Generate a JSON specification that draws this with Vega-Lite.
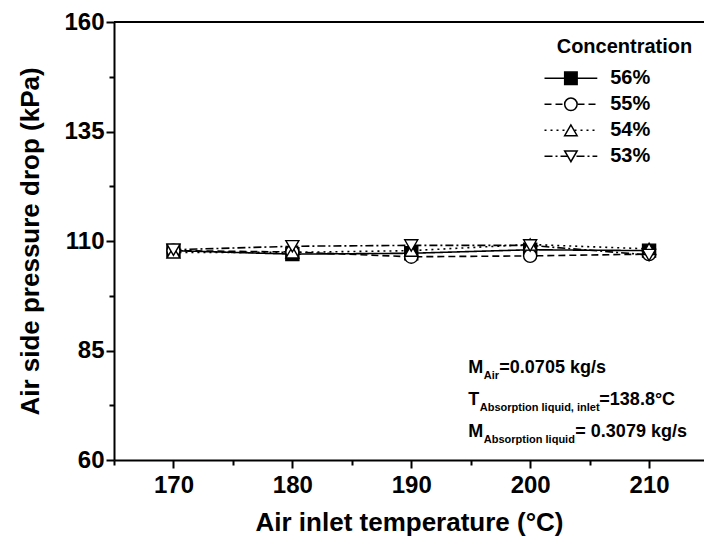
{
  "$schema": "https://vega.github.io/schema/vega-lite/v6.json",
  "width": 590,
  "height": 438,
  "autosize": "none",
  "padding": {"left": 114, "top": 22, "right": 0, "bottom": 85},
  "background": "white",
  "config": {
    "font": "Liberation Sans",
    "view": {"stroke": null},
    "axis": {
      "grid": false, "domainColor": "black", "domainWidth": 2, "tickColor": "black", "tickWidth": 2,
      "labelColor": "black", "titleColor": "black", "labelFontWeight": "bold", "titleFontWeight": "bold",
      "labelFontSize": 24, "titleFontSize": 26, "labelFlush": false, "labelOverlap": false
    }
  },
  "datasets": {
    "pts": [
      {"c": "56%", "x": 170, "y": 107.8}, {"c": "56%", "x": 180, "y": 107.0}, {"c": "56%", "x": 190, "y": 107.2}, {"c": "56%", "x": 200, "y": 108.0}, {"c": "56%", "x": 210, "y": 107.8},
      {"c": "55%", "x": 170, "y": 107.8}, {"c": "55%", "x": 180, "y": 107.5}, {"c": "55%", "x": 190, "y": 106.4}, {"c": "55%", "x": 200, "y": 106.6}, {"c": "55%", "x": 210, "y": 107.0},
      {"c": "54%", "x": 170, "y": 107.4}, {"c": "54%", "x": 180, "y": 107.4}, {"c": "54%", "x": 190, "y": 107.8}, {"c": "54%", "x": 200, "y": 109.2}, {"c": "54%", "x": 210, "y": 108.2},
      {"c": "53%", "x": 170, "y": 108.0}, {"c": "53%", "x": 180, "y": 108.8}, {"c": "53%", "x": 190, "y": 109.0}, {"c": "53%", "x": 200, "y": 109.0}, {"c": "53%", "x": 210, "y": 106.8}
    ],
    "notes": [
      {"line": 1, "x": 194.8, "y": 81.1, "a": "M", "b": "Air", "c": "=0.0705 kg/s"},
      {"line": 2, "x": 194.8, "y": 73.8, "a": "T", "b": "Absorption liquid, inlet", "c": "=138.8°C"},
      {"line": 3, "x": 194.8, "y": 66.5, "a": "M", "b": "Absorption liquid", "c": "= 0.3079 kg/s"}
    ],
    "frame": [{"y": 160}]
  },
  "layer": [
    {
      "data": {"name": "frame"},
      "mark": {"type": "rule", "stroke": "black", "strokeWidth": 2},
      "encoding": {"y": {"field": "y", "type": "quantitative", "scale": {"domain": [60, 160], "nice": false, "zero": false}}}
    },
    {
      "data": {"name": "pts"},
      "mark": {"type": "line", "stroke": "black", "strokeWidth": 1.6},
      "encoding": {
        "x": {"field": "x", "type": "quantitative", "scale": {"domain": [165, 214.62], "nice": false, "zero": false},
          "axis": {"title": "Air inlet temperature (°C)", "values": [165, 170, 175, 180, 185, 190, 195, 200, 205, 210],
            "labelExpr": "datum.value % 10 === 0 ? datum.label : ''",
            "tickSize": {"condition": {"test": "datum.value % 10 === 0", "value": 8}, "value": 5}, "labelPadding": 5, "titlePadding": 12}},
        "y": {"field": "y", "type": "quantitative", "scale": {"domain": [60, 160], "nice": false, "zero": false},
          "axis": {"title": "Air side pressure drop (kPa)", "values": [60, 72.5, 85, 97.5, 110, 122.5, 135, 147.5, 160],
            "labelExpr": "(datum.value - 60) % 25 === 0 ? datum.label : ''",
            "tickSize": {"condition": {"test": "(datum.value - 60) % 25 === 0", "value": 8}, "value": 5}, "labelPadding": 2, "titlePadding": 20}},
        "strokeDash": {
          "field": "c", "type": "nominal",
          "scale": {"domain": ["56%", "55%", "54%", "53%"], "range": [[1, 0], [7, 4], [2, 4], [8, 3, 2, 3]]},
          "legend": {
            "orient": "none", "legendX": 442.7, "legendY": 14.7, "padding": 0,
            "title": "Concentration", "titleFontSize": 20, "titleFontWeight": "bold", "titleColor": "black", "titlePadding": 11.6,
            "labelFontSize": 20, "labelFontWeight": "bold", "labelColor": "black", "labelOffset": 29.3, "rowPadding": 6,
            "symbolType": "M-4.31,0H4.31", "symbolSize": 150, "symbolOffset": 4.2, "symbolStrokeWidth": 1.5
          }
        }
      }
    },
    {
      "data": {"name": "pts"},
      "mark": {"type": "point", "filled": false, "fill": "white", "stroke": "black", "strokeWidth": 1.4, "size": 170, "opacity": 1},
      "encoding": {
        "x": {"field": "x", "type": "quantitative"},
        "y": {"field": "y", "type": "quantitative"},
        "shape": {
          "field": "c", "type": "nominal", "sort": "descending",
          "scale": {"range": ["square", "circle", "triangle-up", "triangle-down"]},
          "legend": {
            "orient": "none", "legendX": 442.7, "legendY": 14.7, "padding": 0,
            "title": "Concentration", "titleFontSize": 20, "titleFontWeight": "bold", "titleColor": "transparent", "titlePadding": 11.6,
            "labelFontSize": 20, "labelFontWeight": "bold", "labelColor": "transparent", "labelOffset": 29.3, "rowPadding": 6,
            "symbolSize": 155, "symbolOffset": 4.2, "symbolStrokeWidth": 1.5
          }
        },
        "fill": {
          "field": "c", "type": "nominal", "sort": "descending",
          "scale": {"range": ["black", "white", "white", "white"]},
          "legend": {
            "orient": "none", "legendX": 442.7, "legendY": 14.7, "padding": 0,
            "title": "Concentration", "titleFontSize": 20, "titleFontWeight": "bold", "titleColor": "transparent", "titlePadding": 11.6,
            "labelFontSize": 20, "labelFontWeight": "bold", "labelColor": "transparent", "labelOffset": 29.3, "rowPadding": 6,
            "symbolSize": 155, "symbolOffset": 4.2, "symbolStrokeWidth": 1.5
          }
        }
      }
    },
    {
      "data": {"name": "notes"},
      "mark": {"type": "text", "align": "left", "baseline": "middle", "fontSize": 18, "fontWeight": "bold", "color": "black"},
      "encoding": {"x": {"field": "x", "type": "quantitative"}, "y": {"field": "y", "type": "quantitative"}, "text": {"field": "a"}}
    },
    {
      "data": {"name": "notes"},
      "transform": [{"filter": "datum.line !== 2"}],
      "mark": {"type": "text", "align": "left", "baseline": "middle", "fontSize": 11, "fontWeight": "bold", "color": "black", "dx": 15.5, "dy": 8},
      "encoding": {"x": {"field": "x", "type": "quantitative"}, "y": {"field": "y", "type": "quantitative"}, "text": {"field": "b"}}
    },
    {
      "data": {"name": "notes"},
      "transform": [{"filter": "datum.line === 2"}],
      "mark": {"type": "text", "align": "left", "baseline": "middle", "fontSize": 11, "fontWeight": "bold", "color": "black", "dx": 11.5, "dy": 8},
      "encoding": {"x": {"field": "x", "type": "quantitative"}, "y": {"field": "y", "type": "quantitative"}, "text": {"field": "b"}}
    },
    {
      "data": {"name": "notes"},
      "transform": [{"filter": "datum.line === 1"}],
      "mark": {"type": "text", "align": "left", "baseline": "middle", "fontSize": 18, "fontWeight": "bold", "color": "black", "dx": 31},
      "encoding": {"x": {"field": "x", "type": "quantitative"}, "y": {"field": "y", "type": "quantitative"}, "text": {"field": "c"}}
    },
    {
      "data": {"name": "notes"},
      "transform": [{"filter": "datum.line === 2"}],
      "mark": {"type": "text", "align": "left", "baseline": "middle", "fontSize": 18, "fontWeight": "bold", "color": "black", "dx": 131},
      "encoding": {"x": {"field": "x", "type": "quantitative"}, "y": {"field": "y", "type": "quantitative"}, "text": {"field": "c"}}
    },
    {
      "data": {"name": "notes"},
      "transform": [{"filter": "datum.line === 3"}],
      "mark": {"type": "text", "align": "left", "baseline": "middle", "fontSize": 18, "fontWeight": "bold", "color": "black", "dx": 107},
      "encoding": {"x": {"field": "x", "type": "quantitative"}, "y": {"field": "y", "type": "quantitative"}, "text": {"field": "c"}}
    }
  ]
}
